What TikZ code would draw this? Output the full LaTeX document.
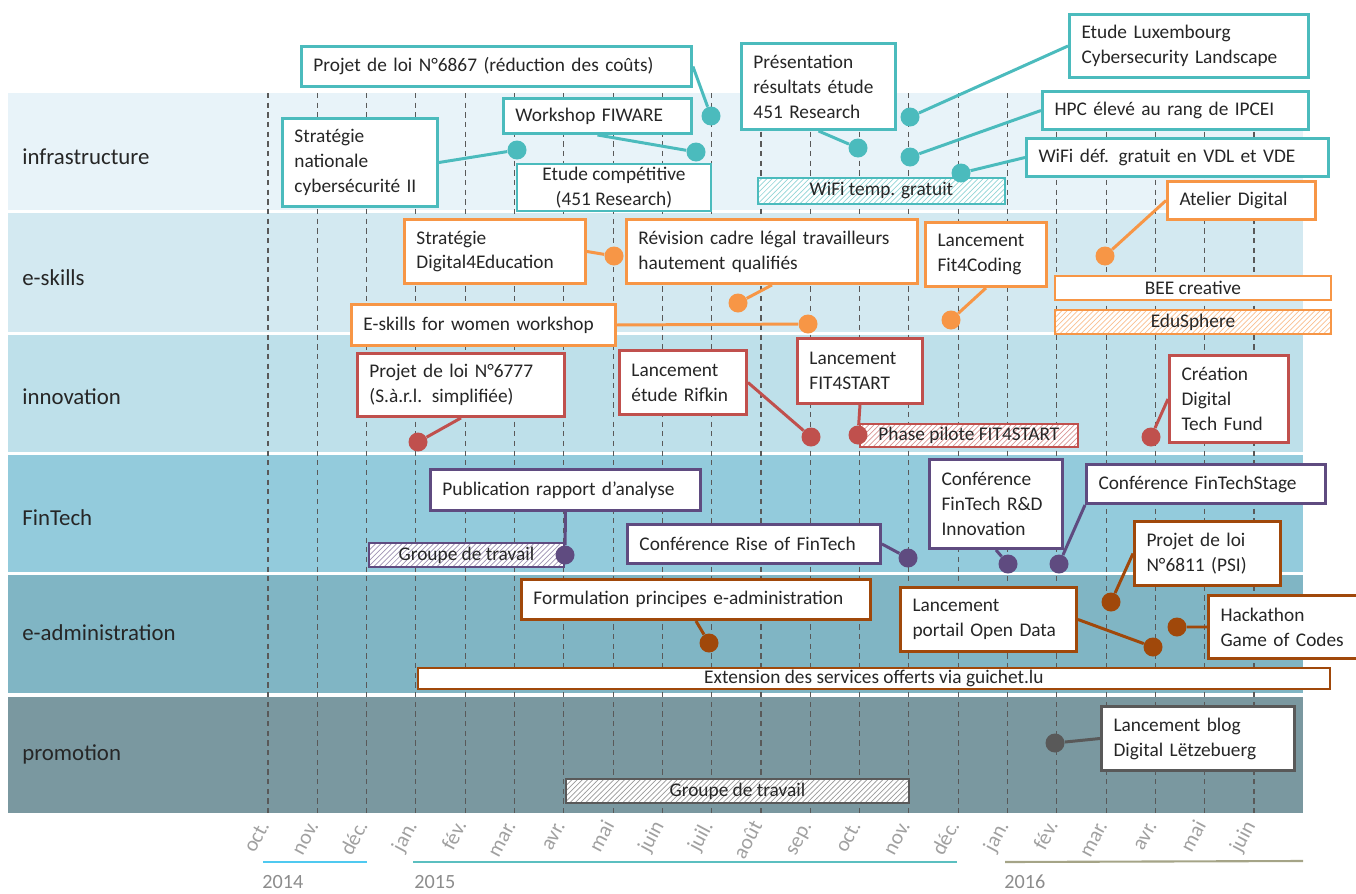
\documentclass[tikz,border=0pt]{standalone}
\usepackage{fontspec}
\setmainfont{Carlito}
\usepackage{xcolor}
\usepackage{tikz}
\usetikzlibrary{patterns,calc}
\definecolor{cInf}{HTML}{4BBBBD}
\definecolor{cSki}{HTML}{F79646}
\definecolor{cInn}{HTML}{C0504D}
\definecolor{cFin}{HTML}{5F4B80}
\definecolor{cAdm}{HTML}{A0480A}
\definecolor{cPro}{HTML}{595959}
\definecolor{bInf}{HTML}{E8F3F9}
\definecolor{bSki}{HTML}{D3E9F1}
\definecolor{bInn}{HTML}{BEE0EA}
\definecolor{bFin}{HTML}{93CBDC}
\definecolor{bAdm}{HTML}{80B5C4}
\definecolor{bPro}{HTML}{7A98A0}
\definecolor{txt}{HTML}{262626}
\definecolor{mgray}{HTML}{A0A0A0}
\definecolor{ygray}{HTML}{8C8C8C}
\definecolor{y14}{HTML}{4FC9F0}
\definecolor{y15}{HTML}{5BBFC0}
\definecolor{y16}{HTML}{A5A487}
\newcommand{\evtfont}{\fontsize{11}{14.2}\selectfont}
\tikzset{
  evt/.style={draw=#1,line width=1.7pt,fill=white,align=left,anchor=north west,
              inner xsep=0.24cm,inner ysep=2pt,font=\evtfont,text=txt},
  pbar/.style={draw=#1,line width=1.1pt,fill=white,align=center,anchor=north west,
               inner sep=0pt,font=\evtfont,text=txt},
  hbar/.style={pbar=#1,preaction={fill=white},pattern=north east lines,pattern color=#1!60},
  ev/.style={circle,fill=#1,minimum size=0.38cm,inner sep=0pt},
  lnk/.style={draw=#1,line width=1.7pt},
}

\begin{document}
\begin{tikzpicture}[x=0.02cm,y=-0.02cm,
  vgrid/.style={dash pattern=on 3pt off 2.5pt,black!65,line width=0.6pt},
  lane/.style={font=\fontsize{13}{15}\selectfont,text=txt,anchor=west,inner sep=0pt},
  mon/.style={font=\fontsize{12}{14}\selectfont,text=mgray,rotate=62,anchor=base east,inner sep=0pt},
  yr/.style={font=\fontsize{11.5}{14}\selectfont,text=ygray,anchor=west,inner sep=0pt},
]
  \useasboundingbox (0,0) rectangle (1356,893);

  %% ── Bands ────────────────────────────────────────────────────────────────
  \fill[bInf] (8,93)  rectangle (1303,210);
  \fill[bSki] (8,213) rectangle (1303,332);
  \fill[bInn] (8,335) rectangle (1303,452);
  \fill[bFin] (8,455) rectangle (1303,572);
  \fill[bAdm] (8,575) rectangle (1303,693);
  \fill[bPro] (8,697) rectangle (1303,813);

  \node[lane] (linf) at (22,157) {infrastructure};
  \node[lane] (lski) at (22,278) {e-skills};
  \node[lane] (linn) at (22,397) {innovation};
  \node[lane] (lfin) at (22,518) {FinTech};
  \node[lane] (ladm) at (22,633) {e-administration};
  \node[lane] (lpro) at (22,754) {promotion};

  %% ── Month grid ───────────────────────────────────────────────────────────
  \foreach \i in {0,...,20}
    \draw[vgrid] ({268+49.3*\i},93) -- ({268+49.3*\i},813);
  \foreach \m [count=\i from 0] in {oct.,nov.,déc.,jan.,fév.,mar.,avr.,mai,juin,juil.,
      août,sep.,oct.,nov.,déc.,jan.,fév.,mar.,avr.,mai,juin}
    \node[mon] (m\i) at ({270+49.3*\i},825) {\m};

  %% ── Years ────────────────────────────────────────────────────────────────
  \draw[y14,line width=1.2pt] (263,862)  -- (367,862);
  \draw[y15,line width=1.2pt] (413,862)  -- (957,862);
  \draw[y16,line width=1.2pt] (1005,862) -- (1303,861);
  \node[yr] (y2014) at (262,882)  {2014};
  \node[yr] (y2015) at (414,882)  {2015};
  \node[yr] (y2016) at (1004,882) {2016};

  %% ── infrastructure ───────────────────────────────────────────────────────
  \node[evt=cInf,text width=7.32cm,minimum height=0.8cm]  (pl6867)   at (300,45)  {Projet de loi N°6867 (réduction des coûts)};
  \node[evt=cInf,text width=3.28cm,minimum height=0.7cm]  (fiware)   at (502,97)  {Workshop FIWARE};
  \node[evt=cInf,text width=2.62cm,minimum height=1.76cm] (cyber)    at (281,117) {Stratégie\\nationale\\cybersécurité II};
  \node[pbar=cInf,minimum width=3.88cm,minimum height=0.94cm] (compet) at (516,163) {Etude compétitive\\(451 Research)};
  \node[evt=cInf,text width=2.6cm,minimum height=1.72cm]  (pres451)  at (740,42)  {Présentation\\résultats étude\\451 Research};
  \node[evt=cInf,text width=4.3cm,minimum height=1.26cm]  (luxcyber) at (1068,13) {Etude Luxembourg\\Cybersecurity Landscape};
  \node[evt=cInf,text width=4.84cm,minimum height=0.76cm] (hpc)      at (1041,90) {HPC élevé au rang de IPCEI};
  \node[evt=cInf,text width=5.56cm,minimum height=0.76cm] (wifidef)  at (1025,137) {WiFi déf. gratuit en VDL et VDE};
  \node[hbar=cInf,minimum width=4.94cm,minimum height=0.52cm] (wifitmp) at (757,177) {WiFi temp. gratuit};

  %% ── e-skills ─────────────────────────────────────────────────────────────
  \node[evt=cSki,text width=3.14cm,minimum height=1.28cm] (d4e)     at (403,218)  {Stratégie\\Digital4Education};
  \node[evt=cSki,text width=5.34cm,minimum height=1.28cm] (revis)   at (625,218)  {Révision cadre légal travailleurs\\hautement qualifiés};
  \node[evt=cSki,text width=4.8cm,minimum height=0.82cm]  (women)   at (350,303)  {E-skills for women workshop};
  \node[evt=cSki,text width=1.94cm,minimum height=1.28cm] (fit4c)   at (924,221)  {Lancement\\Fit4Coding};
  \node[evt=cSki,text width=2.48cm,minimum height=0.76cm] (atelier) at (1166,180) {Atelier Digital};
  \node[pbar=cSki,minimum width=5.52cm,minimum height=0.48cm] (bee)  at (1054,275) {BEE creative};
  \node[hbar=cSki,minimum width=5.52cm,minimum height=0.48cm] (edu)  at (1054,309) {EduSphere};

  %% ── innovation ───────────────────────────────────────────────────────────
  \node[evt=cInn,text width=3.66cm,minimum height=1.26cm] (pl6777) at (356,352)  {Projet de loi N°6777\\(S.à.r.l. simplifiée)};
  \node[evt=cInn,text width=2.06cm,minimum height=1.28cm] (rifkin) at (618,349)  {Lancement\\étude Rifkin};
  \node[evt=cInn,text width=2.02cm,minimum height=1.3cm]  (f4s)    at (796,337)  {Lancement\\FIT4START};
  \node[hbar=cInn,minimum width=4.36cm,minimum height=0.46cm] (pilote) at (859,423) {Phase pilote FIT4START};
  \node[evt=cInn,text width=1.9cm,minimum height=1.74cm]  (dtf)    at (1168,354) {Création\\Digital\\Tech Fund};

  %% ── FinTech ──────────────────────────────────────────────────────────────
  \node[evt=cFin,text width=4.92cm,minimum height=0.82cm] (pubrap) at (429,468)  {Publication rapport d’analyse};
  \node[hbar=cFin,minimum width=3.9cm,minimum height=0.48cm] (gdt1) at (368,542)  {Groupe de travail};
  \node[evt=cFin,text width=4.58cm,minimum height=0.78cm] (rise)   at (626,523)  {Conférence Rise of FinTech};
  \node[evt=cFin,text width=2.18cm,minimum height=1.78cm] (rdinno) at (928,458)  {Conférence\\FinTech R\&D\\Innovation};
  \node[evt=cFin,text width=4.3cm,minimum height=0.78cm]  (stage)  at (1085,463) {Conférence FinTechStage};

  %% ── e-administration ─────────────────────────────────────────────────────
  \node[evt=cAdm,text width=6.5cm,minimum height=0.8cm]   (formul)   at (520,578)  {Formulation principes e-administration};
  \node[pbar=cAdm,minimum width=18.24cm,minimum height=0.42cm] (guichet) at (417,667) {Extension des services offerts via guichet.lu};
  \node[evt=cAdm,text width=3.04cm,minimum height=1.28cm] (opendata) at (899,586)  {Lancement\\portail Open Data};
  \node[evt=cAdm,text width=2.44cm,minimum height=1.28cm] (psi)      at (1133,520) {Projet de loi\\N°6811 (PSI)};
  \node[evt=cAdm,text width=2.62cm,minimum height=1.26cm] (hack)     at (1207,594) {Hackathon\\Game of Codes};

  %% ── promotion ────────────────────────────────────────────────────────────
  \node[hbar=cPro,minimum width=6.86cm,minimum height=0.48cm] (gdt2) at (565,778) {Groupe de travail};
  \node[evt=cPro,text width=3.38cm,minimum height=1.28cm] (blog) at (1100,705) {Lancement blog\\Digital Lëtzebuerg};

  %% ── Milestones ───────────────────────────────────────────────────────────
  \node[ev=cInf] (d6867) at (711,116) {};
  \node[ev=cInf] (dfiw)  at (696,152) {};
  \node[ev=cInf] (dcyb)  at (517,150) {};
  \node[ev=cInf] (dpres) at (858,148) {};
  \node[ev=cInf] (dlux)  at (910,117) {};
  \node[ev=cInf] (dhpc)  at (910,157) {};
  \node[ev=cInf] (dwifi) at (961,173) {};
  \node[ev=cSki] (dd4e)  at (614,256) {};
  \node[ev=cSki] (drev)  at (738,303) {};
  \node[ev=cSki] (dwom)  at (808,324) {};
  \node[ev=cSki] (dfit)  at (951,320) {};
  \node[ev=cSki] (datel) at (1105,256) {};
  \node[ev=cInn] (d6777) at (418,442) {};
  \node[ev=cInn] (drif)  at (811,437) {};
  \node[ev=cInn] (df4s)  at (858,435) {};
  \node[ev=cInn] (ddtf)  at (1151,437) {};
  \node[ev=cFin] (dpub)  at (565,555) {};
  \node[ev=cFin] (drise) at (908,558) {};
  \node[ev=cFin] (drd)   at (1008,564) {};
  \node[ev=cFin] (dstg)  at (1059,564) {};
  \node[ev=cAdm] (dform) at (709,643) {};
  \node[ev=cAdm] (dopen) at (1153,647) {};
  \node[ev=cAdm] (dpsi)  at (1111,602) {};
  \node[ev=cAdm] (dhack) at (1177,627) {};
  \node[ev=cPro] (dblog) at (1055,743) {};

  %% ── Links ────────────────────────────────────────────────────────────────
  \draw[lnk=cInf] (pl6867.east)   -- (d6867);
  \draw[lnk=cInf] (fiware.south)  -- (dfiw);
  \draw[lnk=cInf] (cyber.east)    -- (dcyb);
  \draw[lnk=cInf] (pres451.south) -- (dpres);
  \draw[lnk=cInf] (luxcyber.west) -- (dlux);
  \draw[lnk=cInf] (hpc.west)      -- (dhpc);
  \draw[lnk=cInf] (wifidef.west)  -- (dwifi);
  \draw[lnk=cSki] (d4e.east)      -- (dd4e);
  \draw[lnk=cSki] (revis.south)   -- (drev);
  \draw[lnk=cSki] (women.east)    -- (dwom);
  \draw[lnk=cSki] (fit4c.south)   -- (dfit);
  \draw[lnk=cSki] (atelier.west)  -- (datel);
  \draw[lnk=cInn] (pl6777.south)  -- (d6777);
  \draw[lnk=cInn] (rifkin.east)   -- (drif);
  \draw[lnk=cInn] (f4s.south)     -- (df4s);
  \draw[lnk=cInn] (dtf.west)      -- (ddtf);
  \draw[lnk=cFin] (pubrap.south)  -- (dpub);
  \draw[lnk=cFin] (rise.east)     -- (drise);
  \draw[lnk=cFin] (rdinno.south)  -- (drd);
  \draw[lnk=cFin] (stage.south west) -- (dstg);
  \draw[lnk=cAdm] (formul.south)  -- (dform);
  \draw[lnk=cAdm] (opendata.east) -- (dopen);
  \draw[lnk=cAdm] (psi.west)      -- (dpsi);
  \draw[lnk=cAdm] (hack.west)     -- (dhack);
  \draw[lnk=cPro] (blog.west)     -- (dblog);
\end{tikzpicture}
\end{document}
